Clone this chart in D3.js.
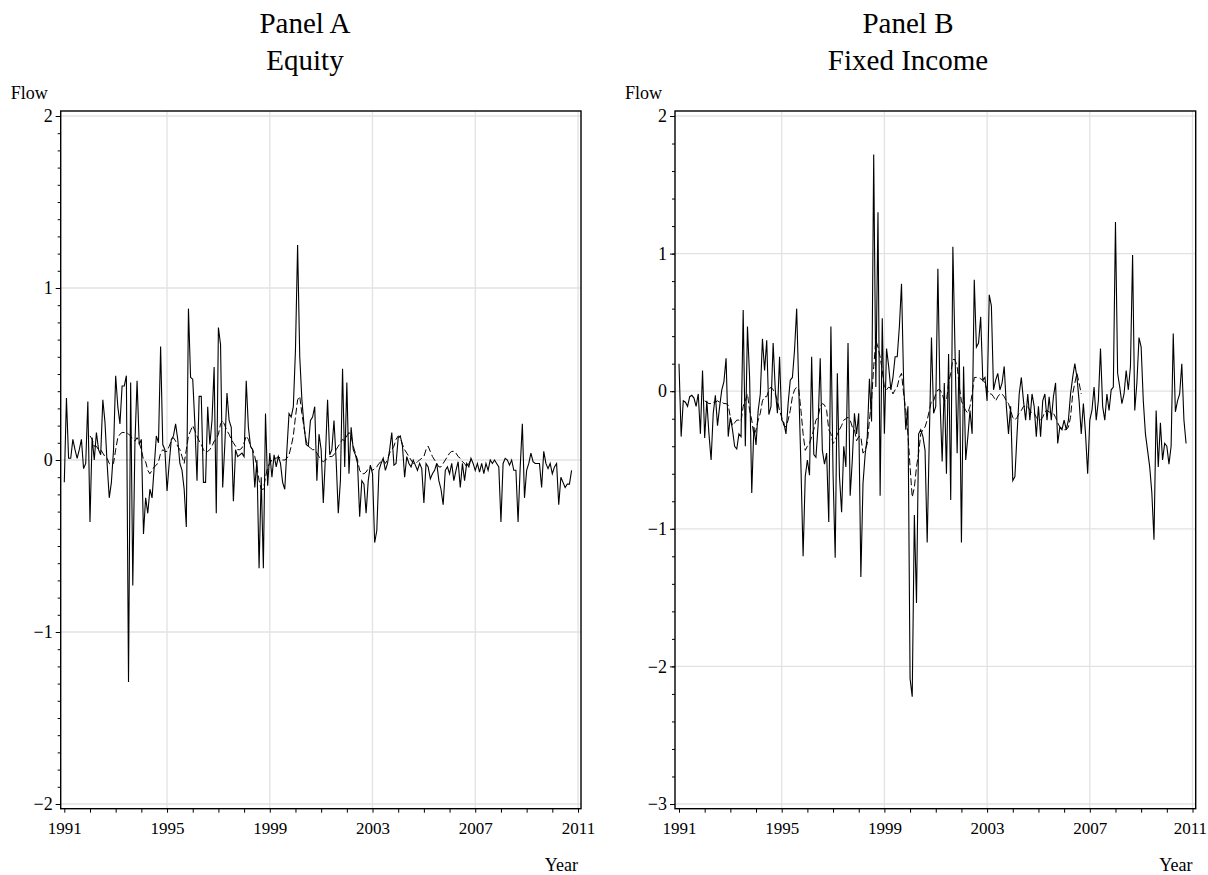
<!DOCTYPE html>
<html lang="en">
<head>
<meta charset="UTF-8">
<title>Flows</title>
<style>
  body { margin: 0; background: #fff; }
  svg text { font-family: "Liberation Serif", "DejaVu Serif", serif; fill: #000; }
</style>
</head>
<body>
<div id="chart"></div>
<script src="https://cdn.jsdelivr.net/npm/d3@7/dist/d3.min.js"></script>
<script>
// monthly observations, Jan 1991 onward; dashed (fitted) series start Jan 1992
var startYear = 1991;
var fittedStart = 1992;
var yearTicks = [1991, 1995, 1999, 2003, 2007, 2011];
var equityTicks = [-2, -1, 0, 1, 2];
var fixedTicks = [-3, -2, -1, 0, 1, 2];

var equityFlow = [
  -0.13, 0.36, 0.01, 0.01, 0.12, 0.06, 0.01, 0.06, 0.12, -0.05,
  -0.02, 0.34, -0.36, 0.13, 0.0, 0.16, 0.06, 0.03, 0.35, 0.22,
  -0.02, -0.22, -0.13, 0.06, 0.49, 0.31, 0.21, 0.43, 0.43, 0.49,
  -1.29, 0.45, -0.73, 0.1, 0.46, 0.09, 0.12, -0.43, -0.22, -0.31,
  -0.17, -0.22, -0.04, 0.14, 0.1, 0.66, 0.09, 0.06, -0.18, -0.02,
  0.12, 0.14, 0.21, 0.12, -0.02, -0.06, -0.17, -0.39, 0.88, 0.48,
  0.47, 0.21, -0.12, 0.37, 0.37, -0.13, -0.13, 0.31, 0.09, 0.23,
  0.54, -0.31, 0.77, 0.67, -0.16, 0.09, 0.39, 0.23, 0.19, -0.24,
  0.06, 0.02, 0.03, 0.04, 0.02, 0.46, 0.19, 0.08, 0.06, -0.16,
  0.0, -0.63, -0.1, -0.63, 0.27, -0.15, 0.04, -0.1, 0.03, -0.04,
  0.02, -0.02, -0.13, -0.17, 0.06, 0.27, 0.25, 0.31, 0.64, 1.25,
  0.6, 0.35, 0.2, 0.09, 0.08, 0.23, 0.25, 0.31, -0.12, 0.15,
  0.06, -0.25, 0.02, 0.35, 0.03, 0.06, 0.23, 0.0, -0.31, -0.12,
  0.53, -0.04, 0.45, -0.08, 0.19, 0.06, 0.03, -0.02, -0.33, -0.12,
  -0.14, -0.31, -0.12, -0.03, -0.08, -0.48, -0.41, -0.06, -0.02, 0.01,
  -0.06, -0.02, 0.06, 0.16, -0.03, -0.02, 0.13, 0.14, 0.08, -0.1,
  0.02, -0.02, -0.04, 0.0, -0.03, -0.06, -0.02, -0.05, -0.25, -0.02,
  -0.04, -0.11, -0.08, -0.06, -0.02, -0.12, -0.17, -0.26, -0.06, -0.04,
  -0.08, -0.02, -0.12, -0.06, -0.01, -0.16, -0.02, -0.12, -0.02, -0.04,
  0.01, -0.02, -0.06, -0.02, -0.07, -0.02, -0.08, -0.02, -0.06, 0.0,
  -0.02, 0.0, -0.02, -0.04, -0.36, -0.02, 0.01, 0.0, -0.03, 0.0,
  -0.06, -0.06, -0.36, -0.04, 0.21, -0.22, -0.06, -0.02, 0.04, -0.01,
  -0.02, -0.02, -0.02, -0.16, 0.05, -0.02, -0.05, -0.02, -0.08, -0.04,
  -0.02, -0.26, -0.1, -0.13, -0.16, -0.14, -0.14, -0.06
];

var equityFitted = [
  0.14, 0.12, 0.08, 0.08, 0.06, 0.06, 0.04, 0.02,
  0.01, -0.02, -0.03, -0.02, 0.06, 0.13, 0.15, 0.16, 0.16, 0.16,
  0.15, 0.14, 0.12, 0.11, 0.13, 0.1, 0.06, 0.0, -0.01, -0.06,
  -0.08, -0.06, -0.04, -0.03, -0.01, 0.04, 0.06, 0.05, 0.05, 0.08,
  0.11, 0.13, 0.11, 0.08, 0.06, 0.02, -0.02, 0.06, 0.14, 0.17,
  0.2, 0.17, 0.14, 0.11, 0.09, 0.06, 0.04, 0.05, 0.06, 0.08,
  0.11, 0.12, 0.15, 0.21, 0.23, 0.2, 0.17, 0.15, 0.12, 0.1,
  0.08, 0.06, 0.06, 0.07, 0.1, 0.14, 0.12, 0.08, 0.06, 0.02,
  -0.04, -0.12, -0.17, -0.17, -0.1, -0.04, -0.02, 0.0, 0.01, 0.01,
  0.02, 0.01, 0.0, 0.0, 0.01, 0.03, 0.08, 0.14, 0.25, 0.35,
  0.37, 0.27, 0.19, 0.11, 0.08, 0.07, 0.06, 0.06, 0.04, 0.02,
  0.0, -0.01, 0.0, 0.01, 0.02, 0.02, 0.03, 0.06, 0.08, 0.1,
  0.12, 0.11, 0.14, 0.16, 0.14, 0.08, 0.04, 0.0, -0.06, -0.08,
  -0.08, -0.07, -0.05, -0.04, -0.06, -0.05, -0.04, -0.02, -0.01, 0.0,
  -0.02, 0.0, 0.04, 0.06, 0.08, 0.12, 0.14, 0.13, 0.09, 0.06,
  0.04, 0.02, 0.0, -0.02, -0.02, -0.01, 0.0, 0.01, 0.02, 0.06,
  0.08, 0.05, 0.02, 0.0, -0.02, -0.04, -0.04, -0.02, 0.0, 0.02,
  0.04, 0.05, 0.05, 0.04, 0.02, 0.01, -0.01, -0.02, -0.04, -0.02,
  0.0
];

var fixedFlow = [
  0.2, -0.33, -0.07, -0.08, -0.11, -0.04, -0.03, -0.05, -0.11, -0.02,
  -0.31, 0.15, -0.34, -0.07, -0.31, -0.5, -0.16, -0.03, -0.25, -0.11,
  0.01, 0.07, 0.24, -0.33, -0.19, -0.28, -0.4, -0.42, -0.31, -0.33,
  0.59, -0.4, 0.47, 0.1, -0.74, -0.26, -0.39, -0.14, -0.02, 0.38,
  0.15, 0.37, -0.17, -0.11, 0.35, 0.01, -0.16, 0.25, -0.21, -0.23,
  -0.31, -0.09, 0.08, 0.1, 0.3, 0.6, 0.01, -0.55, -1.2, -0.62,
  -0.5, -0.61, 0.25, -0.46, -0.48, -0.25, 0.24, -0.43, -0.53, -0.45,
  -0.95, 0.47, -0.6, -1.21, 0.13, -0.62, -0.88, -0.4, -0.55, 0.35,
  -0.76, -0.5, -0.16, -0.31, -0.16, -1.35, -0.67, -0.46, -0.33, 0.09,
  -0.22, 1.72, 0.03, 1.3, -0.76, 0.53, -0.31, 0.31, 0.18, 0.01,
  0.1, 0.25, 0.25, 0.47, 0.78, 0.06, -0.28, -0.11, -2.09, -2.22,
  -0.9, -1.54, -0.31, -0.28, -0.33, -0.43, -1.1, -0.33, 0.39, -0.16,
  -0.11, 0.89, -0.07, -0.51, 0.06, -0.6, 0.27, -0.79, 1.05, 0.3,
  -0.45, 0.3, -1.1, 0.18, -0.5, -0.33, -0.14, -0.31, 0.81, 0.32,
  0.35, 0.54, 0.08, 0.1, -0.07, 0.7, 0.62, 0.01, 0.08, 0.13,
  0.01, 0.06, 0.18, -0.11, -0.31, -0.11, -0.65, -0.62, -0.31, -0.02,
  0.1, -0.07, -0.21, -0.02, -0.21, -0.02, -0.11, -0.33, -0.11, -0.33,
  -0.07, -0.02, -0.21, -0.04, -0.21, -0.04, 0.06, -0.38, -0.26, -0.28,
  -0.21, -0.28, -0.21, -0.02, 0.1, 0.2, 0.1, -0.07, -0.31, -0.09,
  -0.31, -0.6, -0.21, -0.14, 0.03, -0.21, -0.07, 0.31, -0.11, -0.21,
  -0.02, -0.14, 0.01, 0.03, 1.23, 0.13, 0.03, -0.09, -0.02, 0.15,
  0.01, 0.18, 0.99, -0.14, 0.06, 0.39, 0.32, -0.07, -0.31, -0.43,
  -0.55, -0.74, -1.08, -0.14, -0.55, -0.23, -0.5, -0.38, -0.4, -0.53,
  -0.4, 0.42, -0.15, -0.07, -0.02, 0.2, -0.21, -0.38
];

var fixedFitted = [
  -0.07, -0.08, -0.09, -0.09, -0.08, -0.08, -0.07, -0.08,
  -0.08, -0.09, -0.09, -0.1, -0.19, -0.25, -0.23, -0.21, -0.21, -0.22,
  -0.11, -0.07, -0.02, -0.14, -0.21, -0.32, -0.28, -0.21, -0.16, -0.07,
  -0.04, -0.04, 0.01, 0.03, 0.01, -0.02, -0.07, -0.14, -0.19, -0.25,
  -0.26, -0.21, -0.14, -0.04, 0.01, 0.03, 0.01, -0.14, -0.31, -0.43,
  -0.4, -0.38, -0.33, -0.28, -0.21, -0.19, -0.11, -0.09, -0.1, -0.14,
  -0.28, -0.31, -0.38, -0.36, -0.31, -0.28, -0.25, -0.21, -0.2, -0.19,
  -0.21, -0.26, -0.28, -0.36, -0.33, -0.33, -0.45, -0.43, -0.38, -0.21,
  -0.07, 0.18, 0.37, 0.32, 0.25, 0.15, 0.03, 0.01, 0.03, 0.02,
  -0.02, 0.01, 0.03, 0.1, 0.13, -0.02, -0.14, -0.31, -0.55, -0.77,
  -0.7, -0.55, -0.45, -0.31, -0.28, -0.26, -0.21, -0.14, -0.07, -0.07,
  -0.02, 0.01, 0.01, -0.02, -0.07, -0.07, 0.06, 0.13, 0.23, 0.23,
  0.18, 0.03, -0.07, -0.11, -0.14, -0.16, -0.11, -0.02, 0.1, 0.1,
  0.1, 0.09, 0.08, 0.06, 0.01, -0.02, -0.02, -0.04, -0.07, -0.04,
  -0.02, -0.02, -0.04, -0.07, -0.09, -0.14, -0.19, -0.21, -0.19, -0.16,
  -0.14, -0.11, -0.11, -0.11, -0.14, -0.16, -0.16, -0.19, -0.21, -0.21,
  -0.19, -0.15, -0.14, -0.15, -0.16, -0.16, -0.19, -0.23, -0.26, -0.27,
  -0.28, -0.28, -0.26, -0.19, -0.02, 0.06, 0.13, 0.06, -0.02
];

var W = 1208, H = 875;
var svg = d3.select("#chart").append("svg")
    .attr("width", W)
    .attr("height", H);

function monthSeries(values, first) {
  return values.map(function (v, i) { return { t: first + i / 12, v: v }; });
}

var panels = [
  { title: "Panel A", sub: "Equity", cx: 305, flow: equityFlow, fitted: equityFitted,
    xr: [64.3, 578], yd: [-2, 2], ticks: equityTicks, minorStep: 0.1,
    frame: [60.7, 111, 581, 808.7] },
  { title: "Panel B", sub: "Fixed Income", cx: 908, flow: fixedFlow, fitted: fixedFitted,
    xr: [679, 1192.5], yd: [-3, 2], ticks: fixedTicks, minorStep: 0.2,
    frame: [675, 111, 1195.7, 808.7] }
];

panels.forEach(function (p) {
  var g = svg.append("g");
  var left = p.frame[0], top = p.frame[1], right = p.frame[2], bottom = p.frame[3];

  var x = d3.scaleLinear().domain([1991, 2011]).range(p.xr);
  var y = d3.scaleLinear().domain(p.yd).range([804, 116]);

  // grid
  g.append("g").selectAll("line.gx")
    .data(yearTicks.slice(1))
    .enter().append("line")
    .attr("x1", function (d) { return x(d); }).attr("x2", function (d) { return x(d); })
    .attr("y1", top).attr("y2", bottom)
    .style("stroke", "#e2e2e2").style("stroke-width", 1.3);
  g.append("g").selectAll("line.gy")
    .data(p.ticks)
    .enter().append("line")
    .attr("x1", left).attr("x2", right)
    .attr("y1", function (d) { return y(d); }).attr("y2", function (d) { return y(d); })
    .style("stroke", "#e2e2e2").style("stroke-width", 1.3);

  var line = d3.line()
    .x(function (d) { return x(d.t); })
    .y(function (d) { return y(d.v); });

  g.append("path")
    .datum(monthSeries(p.fitted, fittedStart))
    .attr("d", line)
    .style("fill", "none").style("stroke", "#000")
    .style("stroke-width", 1).style("stroke-dasharray", "7,3");

  g.append("path")
    .datum(monthSeries(p.flow, startYear))
    .attr("d", line)
    .style("fill", "none").style("stroke", "#000")
    .style("stroke-width", 1.1);

  // frame
  g.append("rect")
    .attr("x", left).attr("y", top)
    .attr("width", right - left).attr("height", bottom - top)
    .style("fill", "none").style("stroke", "#000").style("stroke-width", 1.4);

  // x axis: yearly ticks, labels every 4 years
  var xAxis = d3.axisBottom(x)
    .tickValues(d3.range(1991, 2012))
    .tickSize(4)
    .tickPadding(9)
    .tickFormat(function (d) { return yearTicks.indexOf(d) >= 0 ? d : ""; });
  var gx = g.append("g")
    .attr("transform", "translate(0," + bottom + ")")
    .call(xAxis);
  gx.select(".domain").remove();
  gx.selectAll("text").style("font-size", "17px").style("font-family", null);
  // keep the last year label inside the page
  gx.selectAll("text").each(function () {
    var b = this.getBBox();
    var over = this.getCTM().e + b.x + b.width - (W - 1);
    if (over > 0) d3.select(this).attr("dx", -over);
  });

  // y axis: major + minor ticks
  var yMinor = d3.axisLeft(y)
    .tickValues(d3.range(p.yd[0], p.yd[1] + 1e-9, p.minorStep))
    .tickSize(3).tickFormat("");
  var gym = g.append("g").attr("transform", "translate(" + left + ",0)").call(yMinor);
  gym.select(".domain").remove();

  var yAxis = d3.axisLeft(y)
    .tickValues(p.ticks)
    .tickSize(5)
    .tickPadding(3)
    .tickFormat(function (d) { return d < 0 ? "\u2212" + Math.abs(d) : d; });
  var gy = g.append("g").attr("transform", "translate(" + left + ",0)").call(yAxis);
  gy.select(".domain").remove();
  gy.selectAll("text").style("font-size", "18px").style("font-family", null);

  // titles
  g.append("text").attr("x", p.cx).attr("y", 33)
    .attr("text-anchor", "middle").style("font-size", "29px").text(p.title);
  g.append("text").attr("x", p.cx).attr("y", 70)
    .attr("text-anchor", "middle").style("font-size", "29px").text(p.sub);

  g.append("text").attr("x", left - 50).attr("y", 99)
    .style("font-size", "18px").text("Flow");
  g.append("text").attr("x", x(2011)).attr("y", 871)
    .attr("text-anchor", "end").style("font-size", "18px").text("Year");
});
</script>
</body>
</html>
